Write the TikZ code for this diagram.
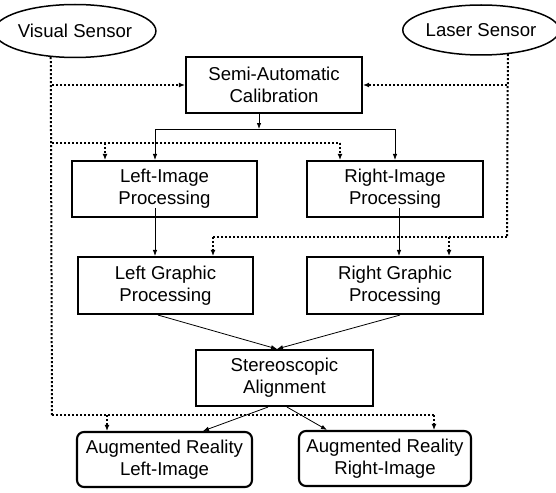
\documentclass[tikz,border=0pt]{standalone}
\usepackage{fontspec}
\setmainfont{Liberation Sans}
\usetikzlibrary{arrows.meta,shapes.geometric}
\begin{document}
\begin{tikzpicture}[x=1pt,y=-1pt,
  txt/.style={align=center, inner sep=0pt, font=\fontsize{18.6}{22}\selectfont},
  box/.style={txt, draw, line width=2.1pt, rectangle},
  rbox/.style={box, rounded corners=7pt},
  sens/.style={txt, draw, ellipse, line width=1.5pt},
  sol/.style={line width=0.8pt, -{Latex[length=6pt,width=4.5pt]}},
  dotl/.style={line width=2pt, dash pattern=on 2pt off 2pt},
  dota/.style={dotl, -{Latex[length=6pt,width=5pt]}},
]
\useasboundingbox (0,0) rectangle (556,492);
\fill[white] (0,0) rectangle (556,492);

% sensors
\node[sens, minimum width=144pt, minimum height=53pt] (vs) at (75,31) {Visual Sensor};
\node[sens, minimum width=147pt, minimum height=50pt] (ls) at (481,30) {Laser Sensor};

% boxes
\node[box, minimum width=176pt, minimum height=56pt] (sac) at (274,85) {Semi-Automatic\\Calibration};
\node[box, minimum width=185pt, minimum height=56pt] (lip) at (164.5,189) {Left-Image\\Processing};
\node[box, minimum width=176pt, minimum height=56pt] (rip) at (395,189) {Right-Image\\Processing};
\node[box, minimum width=175pt, minimum height=57pt] (lgp) at (165.5,285.5) {Left Graphic\\Processing};
\node[box, minimum width=176pt, minimum height=57pt] (rgp) at (395,285.5) {Right Graphic\\Processing};
\node[box, minimum width=177pt, minimum height=56pt] (sa) at (284.5,378) {Stereoscopic\\Alignment};
\node[rbox, minimum width=175pt, minimum height=55pt] (arl) at (164.5,459.5) {Augmented Reality\\Left-Image};
\node[rbox, minimum width=172pt, minimum height=55pt] (arr) at (385,458.5) {Augmented Reality\\Right-Image};

% helper coordinates
\coordinate (v1) at (52,85);
\coordinate (v2) at (52,143);
\coordinate (v3) at (52,415);
\coordinate (l1) at (507,85);
\coordinate (l2) at (507,237);
\coordinate (hm) at (259,129);
\coordinate (hl) at (155,129);
\coordinate (hr) at (395,129);

% visual sensor dotted lines
\draw[dotl] (vs.227) -- (v3);
\draw[dota] (v1) -- (sac.west);
\draw[dotl] (v2) -- (340,143);
\draw[dota] (340,143) -- ([xshift=-55pt]rip.north);
\draw[dota] (105,143) -- ([xshift=-59.5pt]lip.north);
\draw[dotl] (v3) -- (434,415);
\draw[dota] (434,415) -- ([xshift=49pt]arr.north);
\draw[dota] (107,415) -- ([xshift=-57.5pt]arl.north);

% laser sensor dotted lines
\draw[dotl] (ls.318) -- (l2);
\draw[dota] (l1) -- (sac.east);
\draw[dotl] (l2) -- (213,237);
\draw[dota] (213,237) -- ([xshift=47.5pt]lgp.north);
\draw[dota] (449,237) -- ([xshift=54pt]rgp.north);

% calibration distribution
\draw[sol] ([xshift=-15pt]sac.south) -- (hm);
\draw[line width=0.8pt] (hl) -- (hr);
\draw[sol] (hl) -- ([xshift=-9.5pt]lip.north);
\draw[sol] (hr) -- (rip.north);

% image -> graphic
\draw[sol] ([xshift=-9.5pt,yshift=10pt]lip.south) -- ([xshift=-10.5pt]lgp.north);
\draw[sol] ([xshift=4pt,yshift=10pt]rip.south) -- ([xshift=4pt]rgp.north);

% graphic -> stereo
\draw[sol] ([xshift=-7.5pt]lgp.south) -- ([xshift=-7.5pt]sa.north);
\draw[sol] ([xshift=5pt]rgp.south) -- ([xshift=-7.5pt]sa.north);

% stereo -> AR
\draw[sol] ([xshift=-16.5pt]sa.south) -- ([xshift=38.5pt]arl.north);
\draw[sol] ([xshift=2.5pt]sa.south) -- ([xshift=-58pt]arr.north);
\end{tikzpicture}
\end{document}
